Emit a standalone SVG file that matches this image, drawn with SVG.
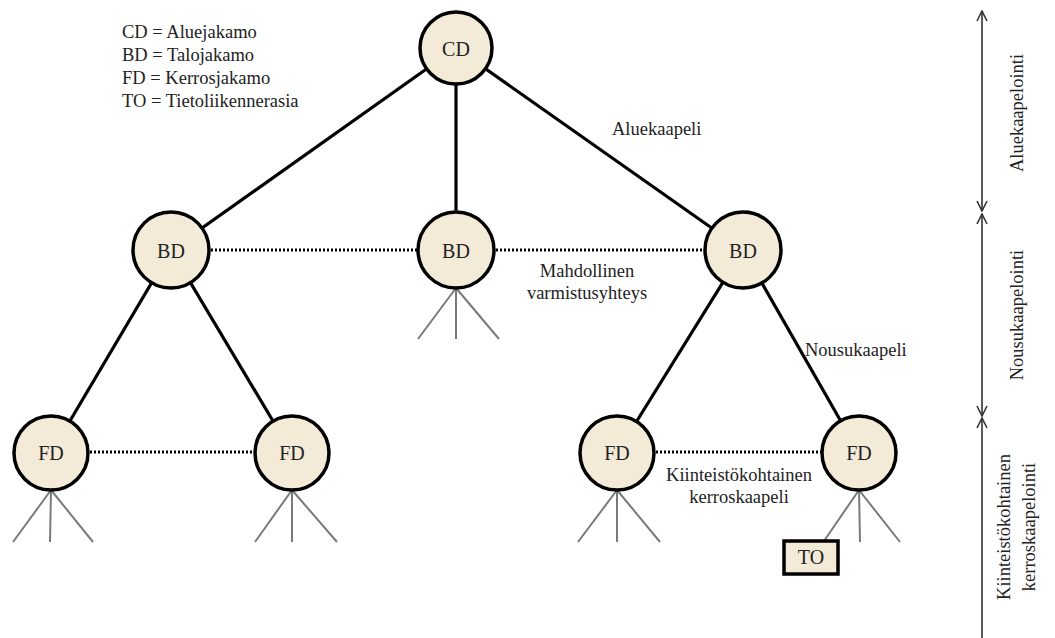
<svg xmlns="http://www.w3.org/2000/svg" width="1055" height="638" viewBox="0 0 1055 638">
  <defs>
    <style>
      text { font-family: "Liberation Serif", "Times New Roman", Times, Tinos, "Noto Serif", "DejaVu Serif", FreeSerif, serif; }
      .node circle { fill: #f3ebd7; stroke: #000; stroke-width: 3.5; }
      .node rect { fill: #f3ebd7; stroke: #000; stroke-width: 3.5; }
      .node text { font-size: 20px; fill: #222; text-anchor: middle; }
      .solid { stroke: #000; stroke-width: 3.2; fill: none; }
      .dotted { stroke: #000; stroke-width: 3; stroke-dasharray: 2 2; fill: none; }
      .fan { stroke: #7a7a7a; stroke-width: 2; fill: none; }
      .axis { stroke: #333; stroke-width: 1.6; fill: none; }
      .lbl { font-size: 18.5px; fill: #222; }
    </style>
    <marker id="chev" viewBox="0 0 12 12" refX="11" refY="6" markerWidth="12" markerHeight="12" markerUnits="userSpaceOnUse" orient="auto-start-reverse">
      <path d="M1,1 L11,6 L1,11" fill="none" stroke="#333" stroke-width="1.6"/>
    </marker>
  </defs>

  <g id="connectors">
    <line class="solid" x1="456" y1="48" x2="171" y2="250"/>
    <line class="solid" x1="456" y1="48" x2="456" y2="250"/>
    <line class="solid" x1="456" y1="48" x2="743" y2="250"/>
    <line class="solid" x1="171" y1="250" x2="51" y2="453"/>
    <line class="solid" x1="171" y1="250" x2="292" y2="453"/>
    <line class="solid" x1="743" y1="250" x2="617" y2="453"/>
    <line class="solid" x1="743" y1="250" x2="859" y2="453"/>
    <line class="dotted" x1="211" y1="250" x2="417" y2="250"/>
    <line class="dotted" x1="496" y1="250" x2="704" y2="250"/>
    <line class="dotted" x1="90" y1="452" x2="253" y2="452"/>
    <line class="dotted" x1="656" y1="452" x2="821" y2="452"/>
    <path class="fan" d="M456,288 L418,339 M456,288 L456,339 M456,288 L499,339"/>
    <path class="fan" d="M51,490 L13,542 M51,490 L50,542 M51,490 L93,542"/>
    <path class="fan" d="M292,490 L255,542 M292,490 L292,542 M292,490 L337,542"/>
    <path class="fan" d="M617,490 L578,542 M617,490 L617,542 M617,490 L660,542"/>
    <path class="fan" d="M859,490 L824,541 M859,490 L860,542 M859,490 L900,542"/>
  </g>

  <g id="node-CD" class="node"><circle cx="456" cy="48" r="36"/><text x="456" y="56">CD</text></g>
  <g id="node-BD1" class="node"><circle cx="171" cy="250" r="38"/><text x="171" y="258">BD</text></g>
  <g id="node-BD2" class="node"><circle cx="456" cy="250" r="38"/><text x="456" y="258">BD</text></g>
  <g id="node-BD3" class="node"><circle cx="743" cy="250" r="38"/><text x="743" y="258">BD</text></g>
  <g id="node-FD1" class="node"><circle cx="51" cy="453" r="37"/><text x="51" y="460">FD</text></g>
  <g id="node-FD2" class="node"><circle cx="292" cy="453" r="37"/><text x="292" y="460">FD</text></g>
  <g id="node-FD3" class="node"><circle cx="617" cy="453" r="37"/><text x="617" y="460">FD</text></g>
  <g id="node-FD4" class="node"><circle cx="859" cy="453" r="37"/><text x="859" y="460">FD</text></g>
  <g id="node-TO" class="node"><rect x="784" y="541" width="54" height="33"/><text x="811" y="564">TO</text></g>

  <g id="legend" class="lbl">
    <text x="122" y="38">CD = Aluejakamo</text>
    <text x="122" y="61">BD = Talojakamo</text>
    <text x="122" y="84">FD = Kerrosjakamo</text>
    <text x="122" y="107">TO = Tietoliikennerasia</text>
  </g>

  <g id="labels" class="lbl">
    <text x="612" y="135">Aluekaapeli</text>
    <text x="587" y="277" text-anchor="middle">Mahdollinen</text>
    <text x="587" y="299" text-anchor="middle">varmistusyhteys</text>
    <text x="805" y="356">Nousukaapeli</text>
    <text x="739" y="481" text-anchor="middle">Kiinteistökohtainen</text>
    <text x="739" y="503" text-anchor="middle">kerroskaapeli</text>
  </g>

  <g id="axis">
    <line class="axis" x1="982" y1="11" x2="982" y2="211" marker-start="url(#chev)" marker-end="url(#chev)"/>
    <line class="axis" x1="982" y1="214" x2="982" y2="416" marker-start="url(#chev)" marker-end="url(#chev)"/>
    <line class="axis" x1="982" y1="418" x2="982" y2="638" marker-start="url(#chev)"/>
    <text class="lbl" transform="translate(1023,113) rotate(-90)" text-anchor="middle">Aluekaapelointi</text>
    <text class="lbl" transform="translate(1023,315) rotate(-90)" text-anchor="middle">Nousukaapelointi</text>
    <text class="lbl" transform="translate(1010,527) rotate(-90)" text-anchor="middle">Kiinteistökohtainen</text>
    <text class="lbl" transform="translate(1035,527) rotate(-90)" text-anchor="middle">kerroskaapelointi</text>
  </g>
</svg>
